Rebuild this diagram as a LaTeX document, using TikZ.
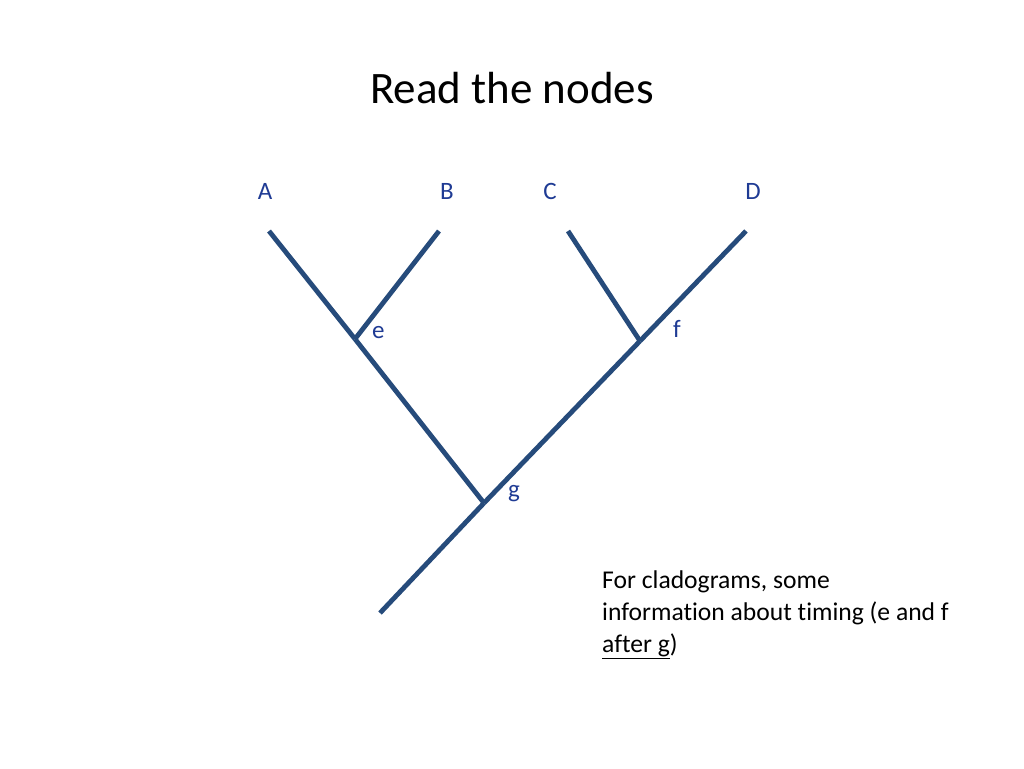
\documentclass[tikz,border=0pt]{standalone}
\usepackage{fontspec}
\setmainfont{Carlito}[Ligatures=NoCommon]
\definecolor{branch}{HTML}{264B7B}
\definecolor{lbl}{HTML}{1F3B94}
\begin{document}
\begin{tikzpicture}[x=1pt,y=-1pt,
  branchline/.style={draw=branch,line width=4.8pt},
  tiplabel/.style={text=lbl,font=\fontsize{25}{30}\selectfont,anchor=base,inner sep=0pt},
  nodelabel/.style={text=lbl,font=\fontsize{25}{30}\selectfont,anchor=base west,inner sep=0pt}]
\useasboundingbox (0,0) rectangle (1024,768);
\node[anchor=base,inner sep=0pt,font=\fontsize{45}{54}\selectfont] (title) at (512,103) {Read the nodes};
% tree points
\coordinate (root) at (380,613);
\coordinate (g) at (484,503);
\coordinate (e) at (355,339);
\coordinate (f) at (640,341);
\coordinate (tA) at (269,231);
\coordinate (tB) at (439,231);
\coordinate (tC) at (568,231);
\coordinate (tD) at (746,231);
\draw[branchline] (root) -- (g);
\draw[branchline] (g) -- (f);
\draw[branchline] (f) -- (tD);
\draw[branchline] (f) -- (tC);
\draw[branchline] (g) -- (e);
\draw[branchline] (e) -- (tA);
\draw[branchline] (e) -- (tB);
% labels
\node[tiplabel] (lA) at (265,199) {A};
\node[tiplabel] (lB) at (447,199) {B};
\node[tiplabel] (lC) at (550,199) {C};
\node[tiplabel] (lD) at (753,199) {D};
\node[nodelabel] (le) at (372,338) {e};
\node[nodelabel] (lf) at (673,337) {f};
\node[nodelabel] (lg) at (508,497) {g};
\node[anchor=base west,inner sep=0pt,align=left,font=\fontsize{25.6}{32}\selectfont] (note) at (602,652)
  {For cladograms, some\\information about timing (e and f\\\underline{after g})};
\end{tikzpicture}
\end{document}
